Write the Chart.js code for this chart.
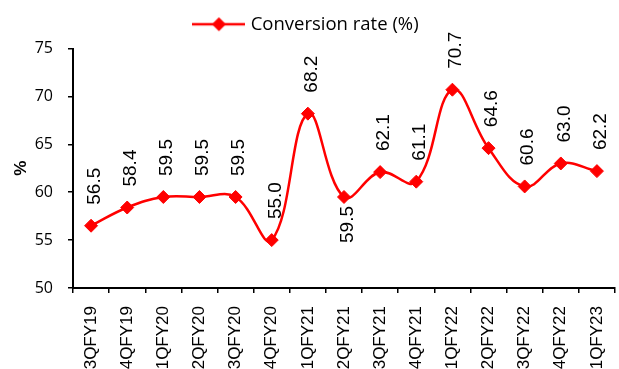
<!DOCTYPE html>
<html>
<head>
<meta charset="utf-8">
<script src="https://cdn.jsdelivr.net/npm/chart.js@4.4.0/dist/chart.umd.min.js"></script>
<style>
  html, body { margin: 0; padding: 0; background: #fff; overflow: hidden; }
  #wrap { width: 619px; height: 369px; }
</style>
</head>
<body>
<div id="wrap"><canvas id="c" width="619" height="369"></canvas></div>
<script>
// Quarterly conversion rate
const quarters = ['3QFY19', '4QFY19', '1QFY20', '2QFY20', '3QFY20', '4QFY20', '1QFY21', '2QFY21',
                  '3QFY21', '4QFY21', '1QFY22', '2QFY22', '3QFY22', '4QFY22', '1QFY23'];
const conversionRate = [56.5, 58.4, 59.5, 59.5, 59.5, 55.0, 68.2, 59.5, 62.1, 61.1, 70.7, 64.6, 60.6, 63.0, 62.2];
const yTicks = [50, 55, 60, 65, 70, 75];
const seriesName = 'Conversion rate (%)';
// quarters whose value label sits under the marker
const labelsBelow = ['2QFY21'];

const RED = '#FF0000';

// Legend swatch: a short line with a diamond marker in the middle
function makeSwatch() {
  const c = document.createElement('canvas');
  c.width = 53; c.height = 18;
  const g = c.getContext('2d');
  g.strokeStyle = RED; g.lineWidth = 2.5;
  g.beginPath(); g.moveTo(0, 9); g.lineTo(53, 9); g.stroke();
  g.fillStyle = RED;
  g.beginPath();
  g.moveTo(26.5, 2); g.lineTo(33.5, 9); g.lineTo(26.5, 16); g.lineTo(19.5, 9); g.closePath();
  g.fill();
  return c;
}
const swatch = makeSwatch();

// Extra space between the legend and the plot area
const legendGap = {
  id: 'legendGap',
  beforeLayout(chart) {
    const lg = chart.legend;
    if (lg && !lg._gapAdded) {
      const fit = lg.fit;
      lg.fit = function () { fit.call(this); this.height += 5; };
      lg._gapAdded = true;
    }
  }
};

// Vertical value labels next to each marker
const valueLabels = {
  id: 'valueLabels',
  afterDatasetsDraw(chart) {
    const meta = chart.getDatasetMeta(0);
    const ctx = chart.ctx;
    const size = 19;
    ctx.save();
    ctx.font = size + 'px "Liberation Sans", Arial, sans-serif';
    ctx.fillStyle = '#000';
    ctx.textBaseline = 'alphabetic';
    meta.data.forEach((pt, i) => {
      const txt = conversionRate[i].toFixed(1);
      const below = labelsBelow.includes(quarters[i]);
      ctx.save();
      ctx.translate(pt.x + 2 + size * 0.358, below ? pt.y + 9 : pt.y - 21);
      ctx.rotate(-Math.PI / 2);
      ctx.textAlign = below ? 'right' : 'left';
      ctx.fillText(txt, 0, 0);
      ctx.restore();
    });
    ctx.restore();
  }
};

new Chart(document.getElementById('c'), {
  type: 'line',
  data: {
    labels: quarters,
    datasets: [{
      label: seriesName,
      data: conversionRate,
      borderColor: RED,
      backgroundColor: RED,
      borderWidth: 2.5,
      tension: 0.4,
      pointStyle: 'rectRot',
      pointRadius: 6.5,
      pointBorderWidth: 1,
      pointBackgroundColor: RED,
      pointBorderColor: RED,
      fill: false
    }]
  },
  options: {
    responsive: false,
    animation: false,
    devicePixelRatio: 1,
    layout: { autoPadding: false, padding: { top: 5, right: 4, left: 0, bottom: 0 } },
    plugins: {
      tooltip: { enabled: false },
      legend: {
        display: true,
        position: 'top',
        labels: {
          color: '#000',
          font: { family: '"Open Sans", sans-serif', size: 18.5 },
          usePointStyle: true,
          pointStyleWidth: 45,
          padding: 10,
          generateLabels: () => [{
            text: seriesName,
            pointStyle: swatch,
            fillStyle: RED,
            strokeStyle: RED,
            lineWidth: 0,
            hidden: false,
            datasetIndex: 0,
            fontColor: '#000'
          }]
        }
      }
    },
    scales: {
      x: {
        type: 'category',
        offset: true,
        grid: { offset: true, drawOnChartArea: false, drawTicks: true, tickLength: 5, color: '#000', lineWidth: 1.5 },
        border: { color: '#000', width: 2 },
        ticks: {
          color: '#000',
          font: { family: '"Liberation Sans", Arial, sans-serif', size: 17 },
          minRotation: 90, maxRotation: 90, autoSkip: false, padding: 13
        },
        afterFit(s) { s.height = 81; s.paddingLeft = 0; s.paddingRight = 0; }
      },
      y: {
        min: yTicks[0],
        max: yTicks[yTicks.length - 1],
        afterBuildTicks(s) { s.ticks = yTicks.map(v => ({ value: v })); },
        grid: { drawOnChartArea: false, drawTicks: true, tickLength: 5, color: '#000', lineWidth: 1.5 },
        border: { color: '#000', width: 2 },
        ticks: { color: '#000', font: { family: '"Open Sans", sans-serif', size: 16 }, padding: 15 },
        title: {
          display: true, text: '%', color: '#000',
          font: { family: '"Liberation Sans", Arial, sans-serif', size: 17, weight: 'bold' },
          padding: { top: 11, bottom: 0 }
        },
        afterFit(s) { s.width = 73; s.paddingTop = 0; s.paddingBottom = 0; }
      }
    }
  },
  plugins: [legendGap, valueLabels]
});
</script>
</body>
</html>
